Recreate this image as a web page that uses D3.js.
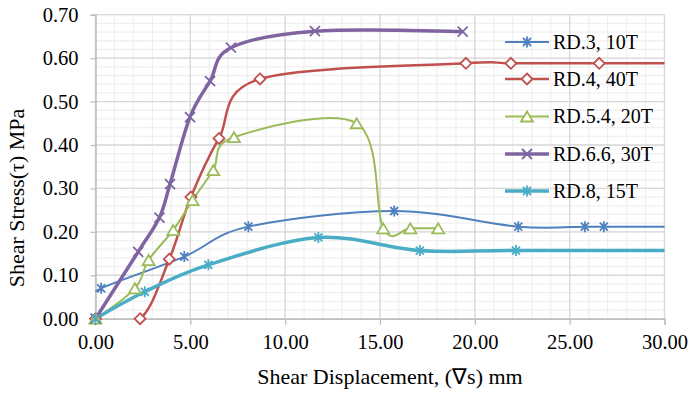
<!DOCTYPE html>
<html>
<head>
<meta charset="utf-8">
<script src="https://d3js.org/d3.v7.min.js"></script>
<style>
  body { margin: 0; background: #fff; }
  text { font-family: "Liberation Serif", "Times New Roman", serif; fill: #000; }
</style>
</head>
<body>
<script>
    // data (x = shear displacement mm, y = shear stress MPa)
    var seriesNames = ["RD.3, 10T", "RD.4, 40T", "RD.5.4, 20T", "RD.6.6, 30T", "RD.8, 15T"];
    var seriesColors = ["#4f81bd", "#c0504d", "#9bbb59", "#8064a2", "#4bacc6"];
    var seriesWidths = [2, 2.5, 2, 3.5, 3.5];
    var seriesMarkers = ["star", "diamond", "triangle", "cross", "star"];

    var rd3X = [-0.4, 0.3, 4.68, 8.06, 15.75, 22.29, 25.8, 26.8, 31];
    var rd3Y = [0.045, 0.07, 0.143, 0.212, 0.248, 0.212, 0.212, 0.212, 0.212];
    var rd4X = [0, 2.35, 3.89, 5.03, 6.51, 8.67, 19.53, 21.9, 26.56, 31];
    var rd4Y = [0, 0, 0.137, 0.28, 0.415, 0.552, 0.588, 0.588, 0.588, 0.588];
    var rd54X = [0, 2.08, 2.8, 4.1, 5.12, 6.21, 7.3, 13.77, 15.17, 16.6, 18.07];
    var rd54Y = [0, 0.07, 0.135, 0.204, 0.273, 0.342, 0.418, 0.45, 0.208, 0.208, 0.208];
    var rd66X = [0, 2.25, 3.37, 3.93, 4.98, 6.04, 7.14, 11.57, 19.36];
    var rd66Y = [0, 0.154, 0.233, 0.31, 0.464, 0.547, 0.624, 0.662, 0.661];
    var rd8X = [0, 2.6, 5.95, 11.75, 17.1, 22.17, 31];
    var rd8Y = [0, 0.062, 0.124, 0.187, 0.157, 0.157, 0.157];

    var xTicks = [0, 5, 10, 15, 20, 25, 30];
    var yTicks = [0, 0.1, 0.2, 0.3, 0.4, 0.5, 0.6, 0.7];

    var width = 690, height = 393;
    var pLeft = 95.5, pRight = 664.5, pTop = 14.7, pBottom = 318.7;

    var svg = d3.select('body').append('svg').attr('width', width).attr('height', height);

    var x = d3.scaleLinear().domain([0, 30]).range([pLeft, pRight]);
    var y = d3.scaleLinear().domain([0, 0.7]).range([pBottom, pTop]);

    // minor grid
    svg.append('g').selectAll('line').data(d3.range(0, 31, 1)).join('line')
        .attr('x1', d => x(d)).attr('x2', d => x(d)).attr('y1', pTop).attr('y2', pBottom)
        .attr('stroke', '#f0f0f0').attr('stroke-width', 1.3);
    svg.append('g').selectAll('line').data(d3.range(0, 36).map(i => i * 0.02)).join('line')
        .attr('y1', d => y(d)).attr('y2', d => y(d)).attr('x1', pLeft).attr('x2', pRight)
        .attr('stroke', '#f0f0f0').attr('stroke-width', 1.3);
    // major grid
    svg.append('g').selectAll('line').data(xTicks).join('line')
        .attr('x1', d => x(d)).attr('x2', d => x(d)).attr('y1', pTop).attr('y2', pBottom)
        .attr('stroke', '#d9d9d9').attr('stroke-width', 1.3);
    svg.append('g').selectAll('line').data(yTicks).join('line')
        .attr('y1', d => y(d)).attr('y2', d => y(d)).attr('x1', pLeft).attr('x2', pRight)
        .attr('stroke', '#d9d9d9').attr('stroke-width', 1.3);

    // axes
    var xAxis = svg.append('g').attr('transform', 'translate(0,' + pBottom + ')')
        .call(d3.axisBottom(x).tickValues(xTicks).tickFormat(d3.format('.2f')).tickSize(6).tickPadding(10));
    var yAxis = svg.append('g').attr('transform', 'translate(' + pLeft + ',0)')
        .call(d3.axisLeft(y).tickValues(yTicks).tickFormat(d3.format('.2f')).tickSize(5).tickPadding(12));
    [xAxis, yAxis].forEach(function (a) {
        a.selectAll('.domain').attr('stroke', '#bfbfbf').attr('stroke-width', 1.5);
        a.selectAll('.tick line').attr('stroke', '#bfbfbf').attr('stroke-width', 1.3);
        a.selectAll('.tick text').style('font-family', '"Liberation Serif", serif')
            .style('font-size', '20.5px').attr('fill', '#000');
    });

    // titles
    svg.append('text').attr('x', 390).attr('y', 384).attr('text-anchor', 'middle')
        .style('font-size', '22px').text('Shear Displacement, (\u2207s) mm');
    svg.append('text').attr('transform', 'translate(24,198) rotate(-90)').attr('text-anchor', 'middle')
        .style('font-size', '22px').text('Shear Stress(\u03c4) MPa');

    // markers
    function markerPath(type) {
        if (type === 'star') return 'M0,-5.5L0,5.5M-4,-4L4,4M-4,4L4,-4';
        if (type === 'cross') return 'M-5,-5L5,5M-5,5L5,-5';
        if (type === 'diamond') return 'M0,-5.5L5.5,0L0,5.5L-5.5,0Z';
        return 'M0,-5L6,5L-6,5Z';
    }

    svg.append('clipPath').attr('id', 'plot').append('rect')
        .attr('x', pLeft).attr('y', pTop - 8).attr('width', pRight - pLeft).attr('height', pBottom - pTop + 8);

    var allX = [rd3X, rd4X, rd54X, rd66X, rd8X];
    var allY = [rd3Y, rd4Y, rd54Y, rd66Y, rd8Y];
    var data = seriesNames.map(function (n, i) {
        return allX[i].map(function (v, j) { return [v, allY[i][j]]; });
    });

    var line = d3.line().x(d => x(d[0])).y(d => y(d[1])).curve(d3.curveCardinal.tension(0));
    var plot = svg.append('g').attr('clip-path', 'url(#plot)');

    data.forEach(function (pts, i) {
        plot.append('path').attr('d', line(pts)).attr('fill', 'none')
            .attr('stroke', seriesColors[i]).attr('stroke-width', seriesWidths[i]);
    });
    // markers are allowed to spill past the axes at the origin, like the reference
    var marks = svg.append('g').attr('clip-path', 'url(#marks)');
    svg.append('clipPath').attr('id', 'marks').append('rect')
        .attr('x', pLeft - 8).attr('y', pTop - 8).attr('width', pRight - pLeft + 8).attr('height', pBottom - pTop + 16);
    data.forEach(function (pts, i) {
        marks.append('g').selectAll('path').data(pts.filter(d => d[0] >= 0 && d[0] <= 30)).join('path')
            .attr('transform', d => 'translate(' + x(d[0]) + ',' + y(d[1]) + ')')
            .attr('d', markerPath(seriesMarkers[i]))
            .attr('fill', seriesMarkers[i] === 'diamond' || seriesMarkers[i] === 'triangle' ? '#fff' : 'none')
            .attr('stroke', seriesColors[i]).attr('stroke-width', 1.8);
    });

    // legend
    var legendY = [42, 79, 116.5, 154, 191];
    var lg = svg.append('g');
    seriesNames.forEach(function (n, i) {
        var g = lg.append('g').attr('transform', 'translate(505,' + legendY[i] + ')');
        g.append('line').attr('x1', 0).attr('x2', 44).attr('stroke', seriesColors[i]).attr('stroke-width', seriesWidths[i]);
        g.append('path').attr('transform', 'translate(22,0)').attr('d', markerPath(seriesMarkers[i]))
            .attr('fill', seriesMarkers[i] === 'diamond' || seriesMarkers[i] === 'triangle' ? '#fff' : 'none')
            .attr('stroke', seriesColors[i]).attr('stroke-width', 1.8);
        g.append('text').attr('x', 48).attr('y', 6.8).style('font-size', '20px').text(n);
    });
</script>
</body>
</html>
